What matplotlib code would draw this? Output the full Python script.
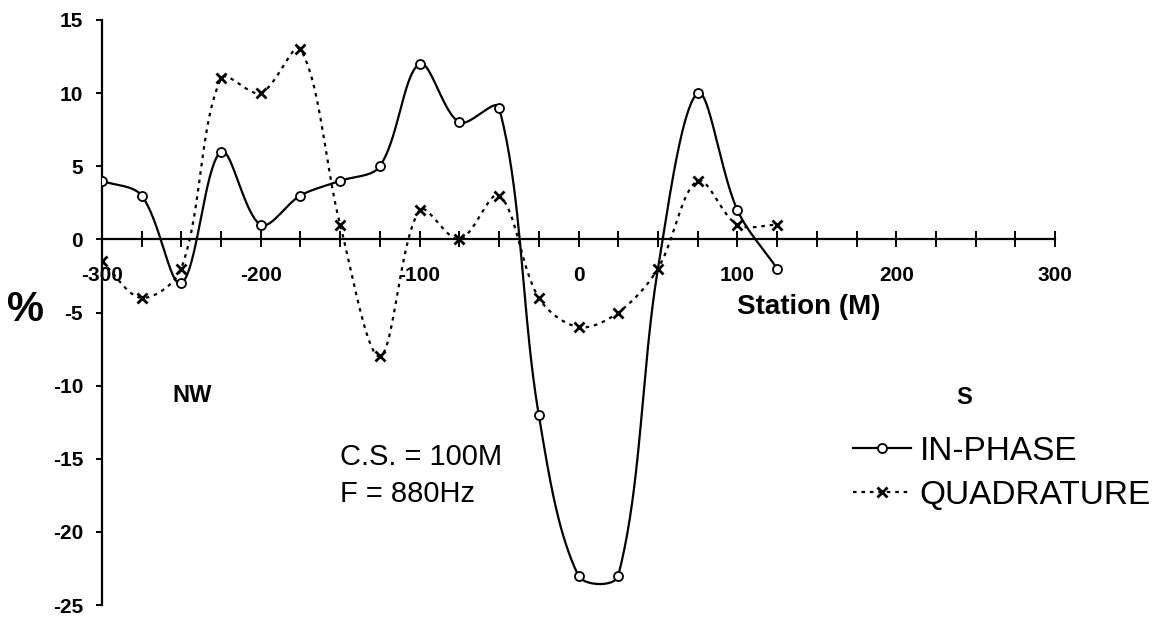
import numpy as np
import matplotlib
matplotlib.use("Agg")
import matplotlib.pyplot as plt
from matplotlib.lines import Line2D
from matplotlib.ticker import MultipleLocator

plt.rcParams['font.family'] = ['Liberation Sans', 'DejaVu Sans']
plt.rcParams['axes.unicode_minus'] = False

# station positions (m)
stations = [-300, -275, -250, -225, -200, -175, -150, -125, -100, -75,
            -50, -25, 0, 25, 50, 75, 100, 125]
in_phase = [4, 3, -3, 6, 1, 3, 4, 5, 12, 8, 9, -12, -23, -23, -2, 10, 2, -2]
quadrature = [-1.5, -4, -2, 11, 10, 13, 1, -8, 2, 0, 3, -4, -6, -5, -2, 4, 1, 1]
# the in-phase point at +50 is hidden under the quadrature cross
in_phase_hidden = [50]


def smooth(ax, x, y, n=40):
    # bezier smoothing like a spreadsheet "smoothed line", done in pixel space
    pts = ax.transData.transform(np.column_stack([x, y]).astype(float))
    p = np.vstack([pts[0], pts, pts[-1]])
    t = np.linspace(0, 1, n, endpoint=False)[:, None]
    segs = []
    for i in range(1, len(p) - 2):
        p0, p1, p2, p3 = p[i - 1], p[i], p[i + 1], p[i + 2]
        d01 = np.hypot(*(p1 - p0))
        d12 = np.hypot(*(p2 - p1))
        d23 = np.hypot(*(p3 - p2))
        c1 = p1 + (p2 - p0) * d12 / (d01 + d12) / 3
        c2 = p2 - (p3 - p1) * d12 / (d12 + d23) / 3
        segs.append((1 - t) ** 3 * p1 + 3 * (1 - t) ** 2 * t * c1
                    + 3 * (1 - t) * t ** 2 * c2 + t ** 3 * p2)
    segs.append(pts[-1:])
    s = ax.transData.inverted().transform(np.vstack(segs))
    return s[:, 0], s[:, 1]


fig = plt.figure(figsize=(11.57, 6.17), dpi=100)
ax = fig.add_axes([0.088, 0.0194, 0.824, 0.9482])
ax.set_xlim(-300, 300)
ax.set_ylim(-25, 15)

dotted = (0, (1.6, 2.2))

sx, sy = smooth(ax, stations, in_phase)
ax.plot(sx, sy, color='black', lw=1.6, zorder=3)
sx, sy = smooth(ax, stations, quadrature)
ax.plot(sx, sy, color='black', lw=1.6, ls=dotted, zorder=2)

mx = [s for s in stations if s not in in_phase_hidden]
my = [v for s, v in zip(stations, in_phase) if s not in in_phase_hidden]
ax.plot(mx, my, 'o', ms=6.5, mfc='white', mec='black', mew=1.3, zorder=5)
ax.plot(stations, quadrature, 'x', ms=7, mec='black', mew=2, zorder=4)

ax.spines['top'].set_visible(False)
ax.spines['right'].set_visible(False)
ax.spines['bottom'].set_position(('data', 0))
ax.spines['left'].set_linewidth(1.6)
ax.spines['bottom'].set_linewidth(1.6)

ax.xaxis.set_major_locator(MultipleLocator(100))
ax.xaxis.set_minor_locator(MultipleLocator(25))
ax.yaxis.set_major_locator(MultipleLocator(5))
ax.tick_params(axis='x', which='both', direction='inout', length=12, width=1.4, pad=13)
ax.tick_params(axis='x', labelsize=15)
ax.tick_params(axis='y', direction='out', length=4.5, width=1.4, pad=9, labelsize=15)
for lab in ax.get_xticklabels() + ax.get_yticklabels():
    lab.set_fontweight('bold')

ax.text(-348, -4.85, '%', fontsize=30, fontweight='bold', ha='center', va='center',
        clip_on=False)
ax.text(145, -4.65, 'Station (M)', fontsize=20, fontweight='bold', ha='center', va='center')
ax.text(-243, -10.7, 'NW', fontsize=17, fontweight='bold', ha='center', va='center')
ax.text(243, -10.8, 'S', fontsize=17, fontweight='bold', ha='center', va='center')
ax.text(-150, -14.9, 'C.S. = 100M', fontsize=21, ha='left', va='center')
ax.text(-150, -17.4, 'F = 880Hz', fontsize=21, ha='left', va='center')

handles = [
    Line2D([], [], color='black', lw=1.6, marker='o', ms=6.5, mfc='white', mew=1.3),
    Line2D([], [], color='black', lw=1.6, ls=dotted, marker='x', ms=7, mew=2),
]
fig.legend(handles, ['IN-PHASE', 'QUADRATURE'], loc='upper left',
           bbox_to_anchor=(0.737, 0.294), frameon=False, fontsize=24,
           handlelength=1.75, handletextpad=0.25, labelspacing=0.4,
           borderaxespad=0, borderpad=0)

fig.savefig('out.png', dpi=100)
